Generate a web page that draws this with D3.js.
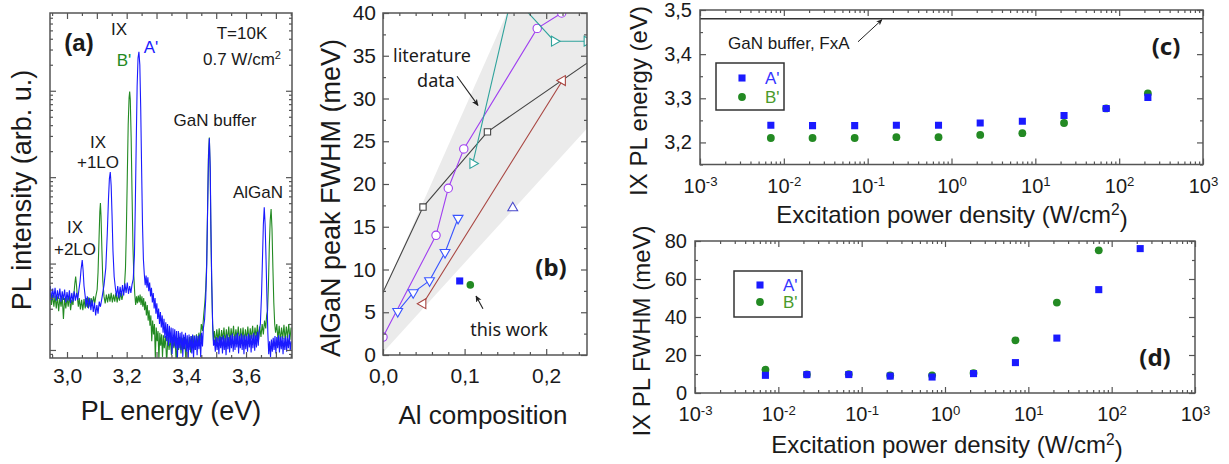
<!DOCTYPE html>
<html>
<head>
<meta charset="utf-8">
<script src="https://cdn.jsdelivr.net/npm/d3@7"></script>
<style>
  body { margin: 0; background: #fff; }
  svg text { font-family: "Liberation Sans", Arial, sans-serif; fill: #1a1a1a; }
  .calib { font-family: "Noto Sans", "Open Sans", sans-serif; }
</style>
</head>
<body>
<svg id="fig" width="1229" height="464"></svg>
<script>
// ---------- (a) PL spectra, [energy eV, log10 intensity arb. u.] ----------
const specA = [
  [2.944,0.74],[2.948,0.58],[2.952,0.71],[2.956,0.60],[2.960,0.72],[2.964,0.57],[2.968,0.69],[2.972,0.59],[2.976,0.71],[2.980,0.56],
  [2.984,0.68],[2.988,0.58],[2.992,0.70],[2.996,0.55],[3.000,0.67],[3.004,0.57],[3.008,0.69],[3.012,0.54],[3.016,0.66],[3.020,0.56],
  [3.024,0.68],[3.028,0.57],[3.032,0.66],[3.036,0.58],
  [3.040,0.70],[3.044,0.80],[3.047,0.93],[3.051,1.04],[3.054,0.92],[3.057,0.74],[3.061,0.62],
  [3.064,0.50],[3.068,0.62],[3.072,0.48],[3.076,0.60],[3.080,0.46],[3.084,0.58],[3.088,0.44],[3.092,0.55],[3.096,0.40],[3.100,0.52],
  [3.104,0.42],[3.108,0.56],
  [3.112,0.50],[3.118,0.62],[3.124,0.75],[3.130,0.95],[3.135,1.35],[3.139,1.75],[3.142,1.98],[3.145,2.06],[3.148,1.90],[3.151,1.55],
  [3.154,1.15],[3.158,0.85],[3.162,0.72],
  [3.166,0.62],[3.170,0.74],[3.174,0.60],[3.178,0.73],[3.182,0.62],[3.186,0.75],[3.190,0.63],[3.194,0.77],[3.198,0.66],[3.202,0.78],
  [3.206,0.65],[3.210,0.74],[3.214,0.66],[3.218,0.76],
  [3.222,0.82],[3.226,1.10],[3.229,1.70],[3.232,2.40],[3.235,3.05],[3.238,3.38],[3.241,3.45],[3.244,3.30],[3.247,2.80],[3.250,2.10],
  [3.253,1.45],[3.256,1.05],[3.259,0.88],
  [3.262,0.75],[3.265,0.86],[3.268,0.72],[3.271,0.84],[3.274,0.68],[3.277,0.78],[3.280,0.62],[3.283,0.72],[3.286,0.55],[3.289,0.66],
  [3.292,0.48],[3.295,0.60],[3.298,0.42],[3.301,0.54],[3.304,0.36],[3.307,0.48],[3.310,0.30],[3.313,0.44],[3.316,0.26],[3.319,0.40],
  [3.322,0.20],[3.325,0.36],[3.328,0.14],[3.331,0.32],[3.334,0.10],[3.337,0.30],[3.340,0.05],[3.343,0.28],[3.346,0.08],[3.349,0.26],
  [3.352,-0.05],[3.355,0.25],[3.358,0.04],[3.361,0.24],[3.364,0.02],[3.367,0.22],[3.370,-0.10],[3.373,0.22],[3.376,0.02],[3.379,0.20],
  [3.382,0.00],[3.385,0.21],[3.388,-0.08],[3.391,0.18],[3.394,0.01],[3.397,0.20],[3.400,-0.02],[3.403,0.17],[3.406,-0.12],[3.409,0.18],
  [3.412,0.00],[3.415,0.16],[3.418,-0.04],[3.421,0.18],[3.424,-0.10],[3.427,0.16],[3.430,0.00],[3.433,0.17],[3.436,-0.06],[3.439,0.16],
  [3.442,0.01],[3.445,0.18],[3.448,-0.08],[3.451,0.20],[3.454,0.04],[3.457,0.25],
  [3.461,0.35],[3.465,0.60],[3.468,0.95],[3.471,1.60],[3.474,2.20],[3.477,2.45],[3.480,2.10],[3.482,1.50],[3.485,0.80],[3.488,0.30],
  [3.491,0.05],
  [3.494,0.12],[3.497,-0.02],[3.500,0.15],[3.503,0.00],[3.506,0.14],[3.509,-0.05],[3.512,0.16],[3.515,0.02],[3.518,0.15],[3.521,-0.04],
  [3.524,0.17],[3.527,0.00],[3.530,0.14],[3.533,-0.06],[3.536,0.18],[3.539,0.01],[3.542,0.15],[3.545,-0.03],[3.548,0.17],[3.551,0.02],
  [3.554,0.19],[3.557,-0.02],[3.560,0.16],[3.563,0.00],[3.566,0.18],[3.569,0.03],[3.572,0.20],[3.575,-0.04],[3.578,0.16],[3.581,0.02],
  [3.584,0.19],[3.587,0.00],[3.590,0.17],[3.593,-0.05],[3.596,0.18],[3.599,0.01],[3.602,0.16],[3.605,-0.02],[3.608,0.19],[3.611,0.03],
  [3.614,0.17],[3.617,-0.03],[3.620,0.18],[3.623,0.02],[3.626,0.20],[3.629,-0.01],[3.632,0.17],[3.635,0.03],[3.638,0.21],[3.641,0.05],
  [3.644,0.22],
  [3.648,0.30],[3.652,0.65],[3.655,1.05],[3.658,1.45],[3.661,1.65],[3.664,1.45],[3.667,1.05],[3.670,0.60],[3.673,0.20],[3.676,-0.05],
  [3.679,0.10],[3.682,-0.08],[3.685,0.12],[3.688,-0.02],[3.691,0.14],[3.694,0.00],[3.697,0.16],[3.700,-0.04],[3.703,0.15],[3.706,0.02],
  [3.709,0.17],[3.712,-0.03],[3.715,0.15],[3.718,0.01],[3.721,0.16],[3.724,-0.05],[3.727,0.14],[3.730,0.00],[3.733,0.16],[3.736,-0.02],
  [3.739,0.14],[3.742,0.02],[3.745,0.18],[3.748,-0.01],[3.751,0.10]
];
const specB = [
  [2.944,0.66],[2.948,0.52],[2.952,0.64],[2.956,0.50],[2.960,0.63],[2.964,0.48],[2.968,0.62],[2.972,0.45],[2.976,0.60],[2.980,0.50],
  [2.984,0.62],[2.988,0.36],[2.992,0.60],[2.996,0.48],[3.000,0.61],[3.004,0.50],[3.008,0.63],[3.012,0.46],[3.016,0.58],
  [3.020,0.52],[3.023,0.64],[3.026,0.76],[3.029,0.85],[3.032,0.74],[3.035,0.60],[3.038,0.50],
  [3.041,0.60],[3.045,0.47],[3.049,0.58],[3.053,0.46],[3.057,0.59],[3.061,0.48],[3.065,0.60],[3.069,0.49],[3.073,0.61],[3.077,0.50],
  [3.081,0.60],[3.085,0.52],[3.089,0.62],[3.093,0.54],[3.097,0.63],
  [3.101,0.70],[3.104,0.90],[3.107,1.25],[3.110,1.60],[3.112,1.70],[3.114,1.55],[3.117,1.15],[3.120,0.80],[3.124,0.62],
  [3.128,0.54],[3.132,0.64],[3.136,0.55],[3.140,0.65],[3.144,0.56],[3.148,0.66],[3.152,0.55],[3.156,0.64],[3.160,0.56],[3.164,0.66],
  [3.168,0.55],[3.172,0.64],[3.176,0.57],[3.180,0.66],[3.184,0.58],[3.188,0.65],
  [3.192,0.70],[3.196,0.95],[3.199,1.40],[3.202,2.00],[3.205,2.60],[3.208,2.92],[3.210,2.99],[3.212,2.90],[3.215,2.45],[3.218,1.80],
  [3.221,1.20],[3.224,0.85],[3.227,0.65],
  [3.230,0.52],[3.233,0.62],[3.236,0.54],[3.239,0.63],[3.242,0.55],[3.245,0.64],[3.248,0.52],[3.251,0.62],[3.254,0.50],[3.257,0.60],
  [3.260,0.46],[3.263,0.56],[3.266,0.40],[3.269,0.52],[3.272,0.34],[3.275,0.46],[3.278,0.28],[3.281,0.40],[3.284,0.10],[3.287,0.34],
  [3.290,0.18],[3.293,0.30],[3.296,-0.10],[3.299,0.26],[3.302,0.10],[3.305,0.22],[3.308,-0.12],[3.311,0.20],[3.314,0.05],[3.317,0.18],
  [3.320,-0.08],[3.323,0.17],[3.326,0.02],[3.330,0.16],[3.334,-0.15],[3.338,0.15],[3.342,0.00],[3.346,0.14],[3.350,-0.06],[3.354,0.15],
  [3.358,0.02],[3.362,0.13],[3.366,-0.15],[3.370,0.14],[3.374,0.00],[3.378,0.15],[3.382,-0.04],[3.386,0.14],[3.390,0.01],[3.394,0.15],
  [3.398,-0.10],[3.402,0.13],[3.406,0.02],[3.410,0.15],[3.414,-0.03],[3.418,0.16],[3.422,0.03],[3.426,0.17],[3.430,0.00],[3.434,0.18],
  [3.438,0.05],[3.442,0.20],[3.446,0.10],[3.450,0.30],[3.454,0.22],[3.458,0.40],[3.462,0.55],[3.465,0.72],
  [3.468,1.00],[3.471,1.60],[3.474,2.25],[3.477,2.46],[3.480,2.05],[3.482,1.40],[3.485,0.75],[3.488,0.30],[3.491,0.10],
  [3.494,0.22],[3.498,0.08],[3.502,0.24],[3.506,0.10],[3.510,0.25],[3.514,0.06],[3.518,0.23],[3.522,0.12],[3.526,0.26],[3.530,0.08],
  [3.534,0.24],[3.538,0.11],[3.542,0.27],[3.546,0.09],[3.550,0.25],[3.554,0.12],[3.558,0.28],[3.562,0.10],[3.566,0.24],[3.570,0.13],
  [3.574,0.27],[3.578,0.08],[3.582,0.25],[3.586,0.11],[3.590,0.26],[3.594,0.09],[3.598,0.24],[3.602,0.12],[3.606,0.27],[3.610,0.10],
  [3.614,0.25],[3.618,0.13],[3.622,0.28],[3.626,0.11],[3.630,0.26],[3.634,0.14],[3.638,0.29],[3.642,0.12],[3.646,0.27],[3.650,0.15],
  [3.654,0.30],[3.658,0.18],[3.662,0.34],[3.666,0.25],[3.669,0.40],
  [3.672,0.45],[3.675,0.75],[3.678,1.20],[3.681,1.50],[3.684,1.63],[3.687,1.40],[3.690,0.95],[3.693,0.55],[3.696,0.30],
  [3.699,0.20],[3.703,0.30],[3.707,0.12],[3.711,0.28],[3.715,0.10],[3.719,0.26],[3.723,0.13],[3.727,0.29],[3.731,0.11],[3.735,0.27],
  [3.739,0.14],[3.743,0.30],[3.747,0.12],[3.751,0.26]
];
const energyTicks = [3.0, 3.2, 3.4, 3.6];

// ---------- (b) AlGaN FWHM vs Al composition ----------
const litBand = [[0, 7.3], [0.152, 40], [0.25, 40], [0.25, 26.5], [0, 0.3]];
const litSeries = [
  { color: '#444', shape: 'square',   pts: [[-0.01, 5.3], [0.049, 17.3], [0.128, 26.1], [0.26, 34.8]] },
  { color: '#a040f0', shape: 'circle', pts: [[0, 2.1], [0.065, 14.0], [0.080, 19.5], [0.099, 24.1], [0.189, 38.2], [0.219, 40.0]] },
  { color: '#3a55ff', shape: 'tri-down', pts: [[0.018, 5.1], [0.037, 7.3], [0.057, 8.7], [0.076, 12.0], [0.092, 16.0]] },
  { color: '#2fa39c', shape: 'tri-right', pts: [[0.110, 22.4], [0.158, 42.1], [0.210, 36.7], [0.250, 36.7]] },
  { color: '#a84540', shape: 'tri-left', pts: [[0.049, 6.0], [0.220, 32.1]] },
  { color: '#4a4acc', shape: 'tri-up', pts: [[0.159, 17.2]] }
];
const thisWorkA = [[0.094, 8.66]];
const thisWorkB = [[0.107, 8.2]];

// ---------- (c), (d) IX vs excitation power ----------
const powerA = [0.007, 0.022, 0.07, 0.22, 0.7, 2.2, 7, 22, 70, 220];
const powerB = [0.007, 0.022, 0.07, 0.22, 0.7, 2.2, 7, 22, 70, 220];
const energyA = [3.239, 3.238, 3.238, 3.239, 3.239, 3.244, 3.248, 3.261, 3.277, 3.302];
const energyB = [3.210, 3.210, 3.210, 3.212, 3.212, 3.217, 3.221, 3.244, 3.277, 3.311];
const gaNFxA = 3.48;
const fwhmA = [9.3, 9.7, 9.7, 8.9, 8.4, 10.2, 16.0, 28.9, 54.4, 76.0];
const fwhmB = [12.3, 9.8, 9.9, 9.2, 9.3, 10.5, 27.7, 47.6, 75.1];

const BLUE = '#1a1aff', GREEN = '#238a23';

const svg = d3.select('#fig');
svg.append('rect').attr('width', 1229).attr('height', 464).attr('fill', '#fff');
const defs = svg.append('defs');
defs.append('marker').attr('id', 'arrow').attr('viewBox', '0 0 10 10')
  .attr('refX', 9).attr('refY', 5).attr('markerWidth', 6).attr('markerHeight', 6)
  .attr('orient', 'auto')
  .append('path').attr('d', 'M0,0.5 L10,5 L0,9.5 L2.5,5 Z').attr('fill', '#222');

function clip(id, x, y) {
  const [x0, x1] = x.range(), [y0, y1] = y.range();
  defs.append('clipPath').attr('id', id).append('rect')
    .attr('x', x0).attr('y', y1).attr('width', x1 - x0).attr('height', y0 - y1);
  return `url(#${id})`;
}

function axes(x, y, o) {
  const [x0, x1] = x.range(), [y0, y1] = y.range();
  const g = svg.append('g');
  const put = (axis, scale, vals, len, tr, fmt, pad) => {
    const a = axis(scale).tickValues(vals).tickSizeInner(-len).tickSizeOuter(0)
      .tickPadding(pad || 0).tickFormat(fmt || (() => ''));
    const s = g.append('g').attr('transform', tr).call(a);
    s.select('.domain').remove();
    s.attr('font-family', null).attr('font-size', o.font).attr('color', '#555');
    s.selectAll('line').attr('stroke-width', 1.2);
    s.selectAll('text').attr('fill', '#1a1a1a');
    return s;
  };
  put(d3.axisBottom, x, o.xMinor, 3, `translate(0,${y0})`);
  const xb = put(d3.axisBottom, x, o.xMajor, 6, `translate(0,${y0})`, o.xFmt, o.xPad);
  put(d3.axisTop, x, o.xMinor, 3, `translate(0,${y1})`);
  put(d3.axisTop, x, o.xMajor, 6, `translate(0,${y1})`);
  put(d3.axisLeft, y, o.yMinor, 3, `translate(${x0},0)`);
  const yl = put(d3.axisLeft, y, o.yMajor, 6, `translate(${x0},0)`, o.yFmt, o.yPad);
  put(d3.axisRight, y, o.yMinor, 3, `translate(${x1},0)`);
  put(d3.axisRight, y, o.yMajor, 6, `translate(${x1},0)`);
  g.append('rect').attr('x', x0).attr('y', y1).attr('width', x1 - x0).attr('height', y0 - y1)
    .attr('fill', 'none').attr('stroke', '#555').attr('stroke-width', 1.5);
  return { xb, yl };
}

const comma = d => d.toFixed(1).replace('.', ',');

function label(x, y, txt, size, opts = {}) {
  const t = svg.append('text').attr('x', x).attr('y', y).attr('font-size', size)
    .attr('text-anchor', opts.anchor || 'middle');
  if (opts.rotate) t.attr('transform', `rotate(-90,${x},${y})`);
  if (opts.bold) t.attr('font-weight', 'bold');
  if (opts.cls) t.attr('class', opts.cls);
  if (opts.fill) t.style('fill', opts.fill);
  if (opts.sup) {
    t.append('tspan').text(txt);
    t.append('tspan').attr('dy', '-0.5em').attr('font-size', '0.65em').text(opts.sup);
    if (opts.after) t.append('tspan').attr('dy', '0.5em').text(opts.after);
  } else t.text(txt);
  return t;
}

function logMinor(lo, hi) {
  const v = [];
  for (let k = lo; k < hi; k++) for (let m = 2; m <= 9; m++) v.push(m * Math.pow(10, k));
  return v;
}

// ================= panel (a) =================
{
  const x = d3.scaleLinear().domain([2.943, 3.754]).range([50, 292]);
  const y = d3.scaleLog().domain([Math.pow(10, -0.093), Math.pow(10, 3.9)]).range([358, 13]);
  const cp = clip('clipA', x, y);
  const line = d3.line().x(d => x(d[0])).y(d => y(Math.pow(10, d[1])));
  const g = svg.append('g').attr('clip-path', cp);
  g.append('path').attr('d', line(specB)).attr('fill', 'none').attr('stroke', GREEN).attr('stroke-width', 1.1);
  g.append('path').attr('d', line(specA)).attr('fill', 'none').attr('stroke', BLUE).attr('stroke-width', 1.1);

  const xMinor = d3.range(2.95, 3.751, 0.05).filter(v => Math.abs(v * 10 - Math.round(v * 10)) > 0.01);
  const xMajor = d3.range(3.0, 3.71, 0.1);
  const yMinor = logMinor(-1, 4).filter(v => v >= y.domain()[0] && v <= y.domain()[1]);
  axes(x, y, { xMajor, xMinor, yMajor: [1, 10, 100, 1000], yMinor, font: 21, xPad: 10,
    xFmt: d => energyTicks.some(t => Math.abs(t - d) < 1e-6) ? comma(d) : '' });

  label(31, 190, 'PL intensity (arb. u.)', 27, { rotate: true });
  label(171, 420, 'PL energy (eV)', 27);
  label(79, 51, '(a)', 24, { bold: true });
  label(119, 35, 'IX', 17);
  label(124, 66, "B'", 17, { fill: GREEN });
  label(151, 53, "A'", 17, { fill: BLUE });
  label(242, 39, 'T=10K', 17);
  label(242, 65, '0.7 W/cm', 17, { sup: '2' });
  label(215, 126, 'GaN buffer', 17);
  label(98, 148, 'IX', 17);
  label(98, 168, '+1LO', 17);
  label(258, 198, 'AlGaN', 17);
  label(75, 233, 'IX', 17);
  label(75, 255, '+2LO', 17);
}

// ================= panel (b) =================
{
  const x = d3.scaleLinear().domain([0, 0.25]).range([383, 587]);
  const y = d3.scaleLinear().domain([0, 40]).range([355, 13]);
  const cp = clip('clipB', x, y);
  const g = svg.append('g').attr('clip-path', cp);
  g.append('path').attr('d', d3.line().x(d => x(d[0])).y(d => y(d[1]))(litBand) + 'Z')
    .attr('fill', '#ebebeb');
  const line = d3.line().x(d => x(d[0])).y(d => y(d[1]));
  const rot = { 'tri-up': 0, 'tri-down': 180, 'tri-right': 90, 'tri-left': -90 };
  litSeries.forEach(s => {
    if (s.pts.length > 1)
      g.append('path').attr('d', line(s.pts)).attr('fill', 'none').attr('stroke', s.color).attr('stroke-width', 1.1);
    const type = s.shape === 'square' ? d3.symbolSquare : s.shape === 'circle' ? d3.symbolCircle : d3.symbolTriangle;
    const size = s.shape === 'square' ? 40 : s.shape === 'circle' ? 55 : 42;
    g.selectAll(null).data(s.pts).join('path')
      .attr('d', d3.symbol(type, size))
      .attr('transform', d => `translate(${x(d[0])},${y(d[1])}) rotate(${rot[s.shape] || 0})`)
      .attr('fill', '#fff').attr('stroke', s.color).attr('stroke-width', 1.1);
  });
  g.selectAll(null).data(thisWorkA).join('path').attr('d', d3.symbol(d3.symbolSquare, 50))
    .attr('transform', d => `translate(${x(d[0])},${y(d[1])})`).attr('fill', BLUE);
  g.selectAll(null).data(thisWorkB).join('path').attr('d', d3.symbol(d3.symbolCircle, 45))
    .attr('transform', d => `translate(${x(d[0])},${y(d[1])})`).attr('fill', GREEN);

  axes(x, y, {
    xMajor: [0, 0.1, 0.2], xMinor: [0.02, 0.04, 0.06, 0.08, 0.12, 0.14, 0.16, 0.18, 0.22, 0.24],
    yMajor: d3.range(0, 41, 5), yMinor: d3.range(2.5, 40, 5), font: 21,
    xFmt: comma, xPad: 13, yFmt: d => d, yPad: 7
  });

  svg.append('line').attr('x1', x(0.0907)).attr('y1', y(32.6)).attr('x2', x(0.1164)).attr('y2', y(29.2))
    .attr('stroke', '#222').attr('stroke-width', 1.1).attr('marker-end', 'url(#arrow)');
  svg.append('line').attr('x1', x(0.1225)).attr('y1', y(5.4)).attr('x2', x(0.114)).attr('y2', y(6.9))
    .attr('stroke', '#222').attr('stroke-width', 1.1).attr('marker-end', 'url(#arrow)');
  label(432, 62, 'literature', 18, { cls: 'calib' });
  label(436, 87, 'data', 18, { cls: 'calib' });
  label(509, 336, 'this work', 18, { cls: 'calib' });
  label(551, 276, '(b)', 24, { bold: true, cls: 'calib' });
  label(340, 198, 'AlGaN peak FWHM (meV)', 27, { rotate: true });
  label(483, 424, 'Al composition', 26);
}

function powerAxisLabels(sel) {
  sel.selectAll('.tick text').each(function (d) {
    const t = d3.select(this);
    t.text(null);
    t.append('tspan').text('10');
    t.append('tspan').attr('dy', '-0.5em').attr('font-size', '0.66em').text(Math.round(Math.log10(d)));
  });
}

function legend(x0, y0, w, h, ya, yb) {
  svg.append('rect').attr('x', x0).attr('y', y0).attr('width', w).attr('height', h)
    .attr('fill', '#fff').attr('stroke', '#333').attr('stroke-width', 1.5);
  svg.append('path').attr('d', d3.symbol(d3.symbolSquare, 50)).attr('transform', `translate(${x0 + 26},${ya})`).attr('fill', BLUE);
  svg.append('path').attr('d', d3.symbol(d3.symbolCircle, 48)).attr('transform', `translate(${x0 + 26},${yb})`).attr('fill', GREEN);
  label(x0 + 49, ya + 6, "A'", 17, { anchor: 'start', fill: '#3535ff' });
  label(x0 + 49, yb + 6, "B'", 17, { anchor: 'start', fill: '#4a9a2a' });
}

const decades = [0.001, 0.01, 0.1, 1, 10, 100, 1000];

// ================= panel (c) =================
{
  const x = d3.scaleLog().domain([0.001, 1000]).range([700, 1203]);
  const y = d3.scaleLinear().domain([3.15, 3.5]).range([164.5, 10]);
  const cp = clip('clipC', x, y);
  const g = svg.append('g').attr('clip-path', cp);
  g.append('line').attr('x1', x.range()[0]).attr('x2', x.range()[1]).attr('y1', y(gaNFxA)).attr('y2', y(gaNFxA))
    .attr('stroke', '#333').attr('stroke-width', 1.5);
  g.selectAll(null).data(powerB.map((p, i) => [p, energyB[i]])).join('path')
    .attr('d', d3.symbol(d3.symbolCircle, 48)).attr('transform', d => `translate(${x(d[0])},${y(d[1])})`).attr('fill', GREEN);
  g.selectAll(null).data(powerA.map((p, i) => [p, energyA[i]])).join('path')
    .attr('d', d3.symbol(d3.symbolSquare, 50)).attr('transform', d => `translate(${x(d[0])},${y(d[1])})`).attr('fill', BLUE);
  const ax = axes(x, y, {
    xMajor: decades, xMinor: logMinor(-3, 3), yMajor: [3.2, 3.3, 3.4, 3.5], yMinor: [3.15, 3.25, 3.35, 3.45],
    font: 20, xFmt: d => d, xPad: 14, yFmt: comma, yPad: 8
  });
  powerAxisLabels(ax.xb);
  svg.append('line').attr('x1', x(0.0767)).attr('y1', y(3.428)).attr('x2', x(0.148)).attr('y2', y(3.478))
    .attr('stroke', '#222').attr('stroke-width', 1).attr('marker-end', 'url(#arrow)');
  label(728, 49, 'GaN buffer, FxA', 17, { anchor: 'start' });
  legend(716, 63, 68, 47, 78, 97);
  label(1166, 55, '(c)', 24, { bold: true, cls: 'calib' });
  label(647, 101, 'IX PL energy (eV)', 24, { rotate: true });
  label(952, 223, 'Excitation power density (W/cm', 24, { sup: '2', after: ')' });
}

// ================= panel (d) =================
{
  const x = d3.scaleLog().domain([0.001, 1000]).range([695, 1195]);
  const y = d3.scaleLinear().domain([0, 80]).range([393, 241]);
  const cp = clip('clipD', x, y);
  const g = svg.append('g').attr('clip-path', cp);
  g.selectAll(null).data(fwhmB.map((v, i) => [powerB[i], v])).join('path')
    .attr('d', d3.symbol(d3.symbolCircle, 48)).attr('transform', d => `translate(${x(d[0])},${y(d[1])})`).attr('fill', GREEN);
  g.selectAll(null).data(fwhmA.map((v, i) => [powerA[i], v])).join('path')
    .attr('d', d3.symbol(d3.symbolSquare, 50)).attr('transform', d => `translate(${x(d[0])},${y(d[1])})`).attr('fill', BLUE);
  const ax = axes(x, y, {
    xMajor: decades, xMinor: logMinor(-3, 3), yMajor: [0, 20, 40, 60, 80], yMinor: [10, 30, 50, 70],
    font: 20, xFmt: d => d, xPad: 14, yFmt: d => d, yPad: 8
  });
  powerAxisLabels(ax.xb);
  legend(734, 271, 68, 46, 285, 302);
  label(1155, 366, '(d)', 24, { bold: true, cls: 'calib' });
  label(650, 331, 'IX PL FWHM (meV)', 24, { rotate: true });
  label(947, 453, 'Excitation power density (W/cm', 24, { sup: '2', after: ')' });
}
</script>
</body>
</html>
